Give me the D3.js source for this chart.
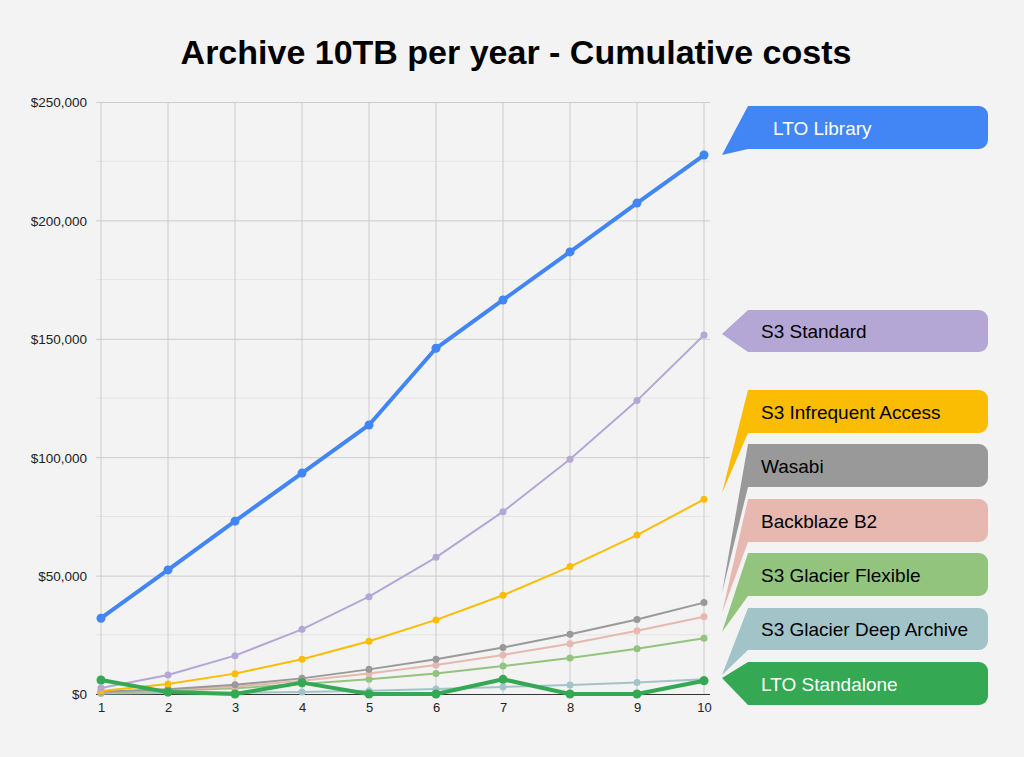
<!DOCTYPE html>
<html><head><meta charset="utf-8">
<script src="https://cdn.jsdelivr.net/npm/d3@7"></script>
<style>
html,body{margin:0;padding:0;background:#f3f3f3;}
svg{display:block;font-family:"Liberation Sans",Arial,Helvetica,sans-serif;}
</style></head>
<body>
<svg id="chart" width="1024" height="757"></svg>
<script>
const title = "Archive 10TB per year - Cumulative costs";
const years = [1,2,3,4,5,6,7,8,9,10];
const yTicks = [0,50000,100000,150000,200000,250000];
const yMinorTicks = [25000,75000,125000,175000,225000];

const ltoLibrary      = [32000,52400,73000,93300,113600,146000,166400,186700,207300,227600];
const s3Standard      = [2500,8000,16200,27300,41100,57700,77000,99100,123900,151600];
const s3Infrequent    = [1300,4200,8600,14700,22300,31300,41700,53800,67100,82200];
const wasabi          = [1000,2000,3900,6600,10400,14700,19600,25200,31500,38600];
const backblaze       = [800,1900,3100,5600,8700,12200,16500,21200,26700,32600];
const glacierFlexible = [500,1400,2400,4200,6200,8700,11800,15200,19100,23500];
const glacierDeep     = [200,400,600,800,1400,2100,3000,3800,4900,6200];
const ltoStandalone   = [5900,800,0,4800,0,0,6200,0,0,5600];

const seriesNames = ["LTO Library","S3 Standard","S3 Infrequent Access","Wasabi","Backblaze B2","S3 Glacier Flexible","S3 Glacier Deep Archive","LTO Standalone"];
const seriesValues = [ltoLibrary,s3Standard,s3Infrequent,wasabi,backblaze,glacierFlexible,glacierDeep,ltoStandalone];
const seriesColors = ["#4285f4","#b4a7d6","#fbbc04","#999999","#e6b8af","#93c47d","#a2c4c9","#34a853"];
const seriesWidths = [4,2,2,2,2,2,2,4];
const seriesRadius = [4.5,3.5,3.5,3.5,3.5,3.5,3.5,4.5];
const labelTextColors = ["#fff","#000","#000","#000","#000","#000","#000","#fff"];
// callout boxes: top, bottom, tip y
const calloutTop = [106,310,390,444,499,553,608,662];
const calloutBottom = [149,352,433,487,542,596,650,705];
const calloutTipY = [155,334,493,593,613,632,675,678];

const svg = d3.select("#chart");
const x = d3.scaleLinear().domain([1,10]).range([101,704]);
const y = d3.scaleLinear().domain([0,250000]).range([694,102]);

svg.append("text").attr("x",516).attr("y",64).attr("text-anchor","middle")
  .attr("font-size",34).attr("font-weight","bold").attr("fill","#000").text(title);

// minor grid
svg.append("g").selectAll("line").data(yMinorTicks).join("line")
  .attr("x1",96).attr("x2",710).attr("y1",d=>y(d)).attr("y2",d=>y(d))
  .attr("stroke","#e4e4e4").attr("stroke-width",1);
// vertical grid
svg.append("g").selectAll("line").data(years).join("line")
  .attr("x1",d=>x(d)).attr("x2",d=>x(d)).attr("y1",102).attr("y2",694)
  .attr("stroke","#cccccc").attr("stroke-width",1);
// y axis
const yAxis = d3.axisLeft(y).tickValues(yTicks).tickSize(-614).tickPadding(9)
  .tickFormat(d=>"$"+d3.format(",")(d));
const gy = svg.append("g").attr("transform","translate(96,0)").call(yAxis);
gy.select(".domain").remove();
gy.selectAll(".tick line").attr("stroke","#cccccc");
gy.selectAll(".tick text").attr("font-size",13.5).attr("dy","0.36em").attr("fill","#222").attr("font-family","Liberation Sans, Arial, sans-serif");
// x axis
const xAxis = d3.axisBottom(x).tickValues(years).tickSize(0).tickPadding(9).tickFormat(d3.format("d"));
const gx = svg.append("g").attr("transform","translate(0,694)").call(xAxis);
gx.select(".domain").remove();
gx.selectAll(".tick text").attr("font-size",13).attr("fill","#222").attr("font-family","Liberation Sans, Arial, sans-serif");
svg.append("line").attr("x1",96).attr("x2",710).attr("y1",694.5).attr("y2",694.5).attr("stroke","#333").attr("stroke-width",1);

// lines (draw in reverse so LTO Library on top)
const line = d3.line().x((d,i)=>x(years[i])).y(d=>y(d));
const order = [6,5,4,3,2,1,7,0];
order.forEach(k=>{
  const g = svg.append("g");
  g.append("path").datum(seriesValues[k]).attr("d",line).attr("fill","none")
    .attr("stroke",seriesColors[k]).attr("stroke-width",seriesWidths[k]).attr("stroke-linejoin","round");
  g.selectAll("circle").data(seriesValues[k]).join("circle")
    .attr("cx",(d,i)=>x(years[i])).attr("cy",d=>y(d)).attr("r",seriesRadius[k]).attr("fill",seriesColors[k]);
});

// callouts
const bx = 748, bRight = 988, r = 9, tipX = 722;
seriesNames.forEach((name,k)=>{
  const t = calloutTop[k], b = calloutBottom[k];
  const p = d3.path();
  p.moveTo(bx,t);
  p.lineTo(bRight-r,t);
  p.arcTo(bRight,t,bRight,t+r,r);
  p.lineTo(bRight,b-r);
  p.arcTo(bRight,b,bRight-r,b,r);
  p.lineTo(bx,b);
  p.lineTo(tipX,calloutTipY[k]);
  p.closePath();
  svg.append("path").attr("d",p.toString()).attr("fill",seriesColors[k]);
  svg.append("text").attr("x",k===0?773:761).attr("y",(t+b)/2+7)
    .attr("font-size",19).attr("fill",labelTextColors[k]).text(name);
});
</script>
</body></html>
